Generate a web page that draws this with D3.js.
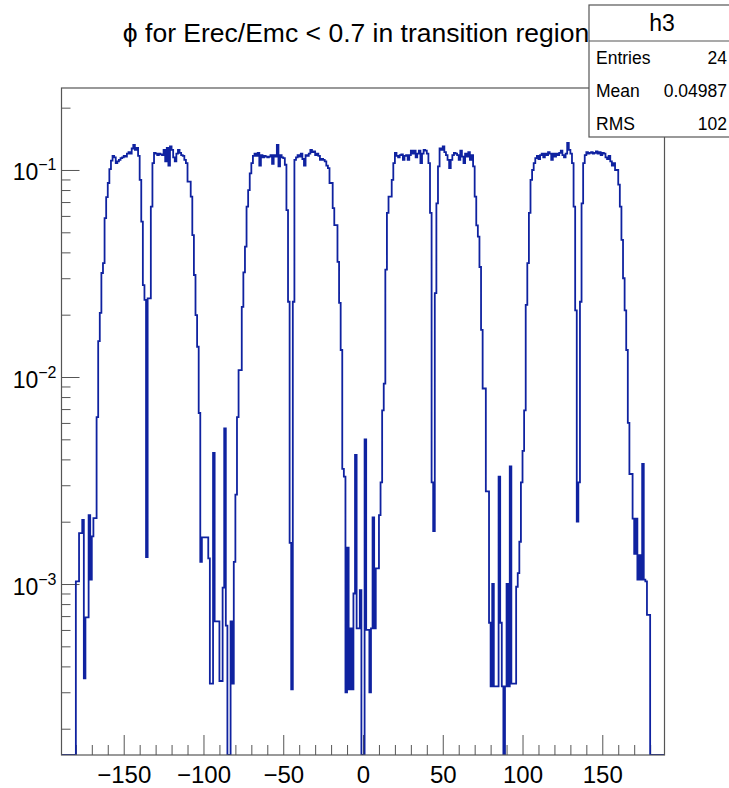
<!DOCTYPE html>
<html><head><meta charset="utf-8">
<script src="https://cdn.jsdelivr.net/npm/d3@7"></script>
<style>body{margin:0;background:#fff}text{font-family:"Liberation Sans",Arial,Helvetica,sans-serif;fill:#000}</style>
</head><body><svg id="c" width="729" height="788"></svg>
<script>
// ---------- data ----------
const titleText = "ϕ for Erec/Emc < 0.7 in transition region";
const histName = "h3";
const statLabels = ["Entries", "Mean", "RMS"];
const statValues = ["24", "0.04987", "102"];
const phiStart = -180;          // low edge of first filled bin (deg)
const binWidth = 1;             // deg
const axisDomain = [-189, 189]; // histogram axis range
const yDomain = [1.493e-4, 0.2489];
const xMajorTicks = [-150, -100, -50, 0, 50, 100, 150];
const xMinorTicks = [-180,-170,-160,-140,-130,-120,-110,-90,-80,-70,-60,-40,-30,-20,-10,10,20,30,40,60,70,80,90,110,120,130,140,160,170,180];
const yMajorTicks = [1e-3, 1e-2, 1e-1];
const yMajorExp = ["−3", "−2", "−1"];
const yMinorTicks = [2e-4,3e-4,4e-4,5e-4,6e-4,7e-4,8e-4,9e-4,2e-3,3e-3,4e-3,5e-3,6e-3,7e-3,8e-3,9e-3,2e-2,3e-2,4e-2,5e-2,6e-2,7e-2,8e-2,9e-2,0.2];

// bins -180 .. -91
const countsQ1 = [
 1.03e-3,1.03e-3,1.76e-3,1.76e-3,2.04e-3,3.5e-4,6.9e-4,6.9e-4,2.15e-3,1.05e-3,
 1.7e-3,2.08e-3,2.08e-3,6.4e-3,0.0149,0.0204,0.0318,0.0355,0.0586,0.074,
 0.0865,0.101,0.111,0.117,0.115,0.108,0.11,0.112,0.114,0.115,
 0.117,0.116,0.12,0.122,0.12,0.127,0.132,0.125,0.128,0.117,
 0.0895,0.0563,0.0278,0.0236,1.35e-3,0.024,0.024,0.0665,0.108,0.121,
 0.12,0.118,0.12,0.119,0.118,0.125,0.11,0.128,0.105,0.13,
 0.125,0.115,0.11,0.12,0.125,0.121,0.118,0.117,0.112,0.108,
 0.0878,0.0878,0.0743,0.0485,0.0311,0.0199,0.014,6.7e-3,1.28e-3,1.68e-3,
 1.68e-3,1.68e-3,1.68e-3,1.33e-3,3.3e-4,3.3e-4,4.3e-3,6.6e-4,6.6e-4,6.6e-4];
// bins -90 .. -1
const countsQ2 = [
 3.4e-4,3.4e-4,9.6e-4,5.65e-3,6.3e-4,0,0,6.6e-4,3.3e-4,1.28e-3,
 2.7e-3,6.4e-3,0.0108,0.0108,0.0218,0.032,0.0426,0.0665,0.08,0.0963,
 0.108,0.117,0.12,0.117,0.121,0.105,0.118,0.115,0.117,0.116,
 0.115,0.116,0.118,0.107,0.118,0.116,0.132,0.104,0.118,0.115,
 0.114,0.106,0.064,0.0231,1.58e-3,3.1e-4,0.0231,0.112,0.115,0.118,
 0.116,0.12,0.113,0.105,0.118,0.117,0.12,0.125,0.122,0.123,
 0.118,0.12,0.117,0.112,0.113,0.112,0.11,0.105,0.102,0.0865,
 0.0865,0.0655,0.0542,0.0542,0.036,0.0228,0.0135,3.6e-3,3.3e-3,3.0e-4,
 1.5e-3,3.1e-4,6.1e-4,3.1e-4,9.0e-4,4.2e-3,6.1e-4,6.1e-4,9.35e-4,0];
// bins 0 .. 89
const countsQ3 = [
 0,5e-3,6e-4,6e-4,3e-4,6.1e-4,2.1e-3,6.1e-4,1.19e-3,1.19e-3,
 2.15e-3,3.1e-3,6.9e-3,9.3e-3,0.033,0.062,0.0743,0.0743,0.0895,0.108,
 0.121,0.117,0.115,0.118,0.119,0.112,0.117,0.118,0.112,0.118,
 0.124,0.12,0.124,0.115,0.12,0.124,0.108,0.12,0.125,0.124,
 0.12,0.108,0.062,3.1e-3,1.8e-3,0.0254,0.069,0.104,0.127,0.125,
 0.13,0.122,0.118,0.112,0.102,0.112,0.118,0.121,0.12,0.118,
 0.112,0.124,0.116,0.108,0.12,0.116,0.122,0.112,0.118,0.104,
 0.0743,0.054,0.0476,0.034,0.0169,8.8e-3,8.8e-3,2.8e-3,2.8e-3,6.5e-4,
 3.2e-4,1.0e-3,3.2e-4,3.2e-4,3.2e-4,3.3e-3,6.5e-4,3.2e-4,0,3.2e-4];
// bins 90 .. 179
const countsQ4 = [
 1.0e-3,3.2e-4,3.7e-3,3.3e-4,3.3e-4,3.3e-4,9.7e-4,1.13e-3,1.6e-3,3.1e-3,
 4.4e-3,6.9e-3,0.0223,0.0355,0.062,0.0895,0.1,0.108,0.114,0.117,
 0.113,0.118,0.12,0.115,0.12,0.118,0.122,0.12,0.112,0.12,
 0.116,0.12,0.118,0.121,0.124,0.118,0.115,0.12,0.135,0.125,
 0.12,0.108,0.0665,0.021,2.0e-3,3.1e-3,0.0231,0.069,0.108,0.118,
 0.122,0.12,0.121,0.122,0.12,0.121,0.123,0.12,0.122,0.118,
 0.121,0.12,0.115,0.113,0.117,0.11,0.105,0.108,0.1,0.1,
 0.085,0.0665,0.046,0.03,0.021,0.0135,6e-3,3.4e-3,3.4e-3,2.07e-3,
 1.4e-3,2.07e-3,1.05e-3,1.38e-3,1.05e-3,3.8e-3,1.05e-3,1.03e-3,7.1e-4,7.1e-4];

// ---------- layout ----------
const W = 729, H = 788;
const frame = {l: 61.5, r: 664.5, t: 88, b: 755};
const svg = d3.select("#c");
svg.append("rect").attr("width", W).attr("height", H).attr("fill", "#fff");

const x = d3.scaleLinear().domain(axisDomain).range([frame.l, frame.r]);
const y = d3.scaleLog().domain(yDomain).range([frame.b, frame.t]);

// histogram points (step after)
const counts = countsQ1.concat(countsQ2, countsQ3, countsQ4);
const pts = [[axisDomain[0], 0]];
counts.forEach((v, i) => pts.push([phiStart + i * binWidth, v]));
pts.push([phiStart + counts.length * binWidth, 0]);
pts.push([axisDomain[1], 0]);

const yv = v => (v > yDomain[0] ? y(v) : frame.b);

svg.append("clipPath").attr("id", "fc").append("rect")
  .attr("x", frame.l).attr("y", frame.t - 1)
  .attr("width", frame.r - frame.l).attr("height", frame.b - frame.t + 1);

// axes ticks (ROOT style: ticks inside the frame)
const axCol = "#555";
function styleAxis(g) {
  g.select(".domain").remove();
  g.selectAll(".tick line").attr("stroke", axCol).attr("stroke-width", 1);
}
svg.append("g").attr("transform", `translate(0,${frame.b})`)
  .call(d3.axisBottom(x).tickValues(xMinorTicks).tickSize(-10).tickFormat(""))
  .call(styleAxis);
const gxMaj = svg.append("g").attr("transform", `translate(0,${frame.b})`)
  .call(d3.axisBottom(x).tickValues(xMajorTicks).tickSize(-20).tickPadding(0))
  .call(styleAxis);
gxMaj.selectAll(".tick text")
  .attr("y", 28).attr("dy", 0)
  .attr("font-size", 24).attr("fill", "#000")
  .style("font-family", '"Liberation Sans", Arial, sans-serif');

svg.append("g").attr("transform", `translate(${frame.l},0)`)
  .call(d3.axisLeft(y).tickValues(yMinorTicks).tickSize(-9).tickFormat(""))
  .call(styleAxis);
const gyMaj = svg.append("g").attr("transform", `translate(${frame.l},0)`)
  .call(d3.axisLeft(y).tickValues(yMajorTicks).tickSize(-18).tickFormat(""))
  .call(styleAxis);
gyMaj.selectAll(".tick").each(function(d, i) {
  const t = d3.select(this).append("text")
    .attr("x", -5).attr("y", 10).attr("text-anchor", "end")
    .attr("font-size", 23).attr("fill", "#000");
  t.append("tspan").text("10");
  t.append("tspan").attr("dy", -10).attr("font-size", 16).text(yMajorExp[i]);
});

// histogram line
const line = d3.line().x(d => x(d[0])).y(d => yv(d[1])).curve(d3.curveStepAfter);
svg.append("path").datum(pts)
  .attr("clip-path", "url(#fc)")
  .attr("d", line)
  .attr("fill", "none")
  .attr("stroke", "#0f22a0")
  .attr("stroke-width", 1.8)
  .attr("stroke-linejoin", "miter");

// frame
svg.append("rect")
  .attr("x", frame.l).attr("y", frame.t)
  .attr("width", frame.r - frame.l).attr("height", frame.b - frame.t)
  .attr("fill", "none").attr("stroke", axCol).attr("stroke-width", 1.2);

// title
svg.append("text").attr("x", 356).attr("y", 42)
  .attr("text-anchor", "middle").attr("font-size", 26.5)
  .text(titleText);

// stats box
const box = {l: 589, t: 5, b: 137, r: 760};
const sb = svg.append("g");
sb.append("rect").attr("x", box.l).attr("y", box.t)
  .attr("width", box.r - box.l).attr("height", box.b - box.t)
  .attr("fill", "#fff").attr("stroke", axCol).attr("stroke-width", 1.2);
const rowH = (box.b - box.t) / 4;
sb.append("line").attr("x1", box.l).attr("x2", box.r)
  .attr("y1", box.t + rowH + 3).attr("y2", box.t + rowH + 3)
  .attr("stroke", axCol).attr("stroke-width", 1.2);
sb.append("text").attr("x", 662).attr("y", box.t + 26)
  .attr("text-anchor", "middle").attr("font-size", 23).text(histName);
statLabels.forEach((s, i) => {
  const cy = box.t + rowH * (i + 1.5) + 3;
  sb.append("text").attr("x", 596).attr("y", cy + 6).attr("font-size", 17.5).text(s);
  sb.append("text").attr("x", 727).attr("y", cy + 6).attr("text-anchor", "end")
    .attr("font-size", 17.5).text(statValues[i]);
});
</script></body></html>
